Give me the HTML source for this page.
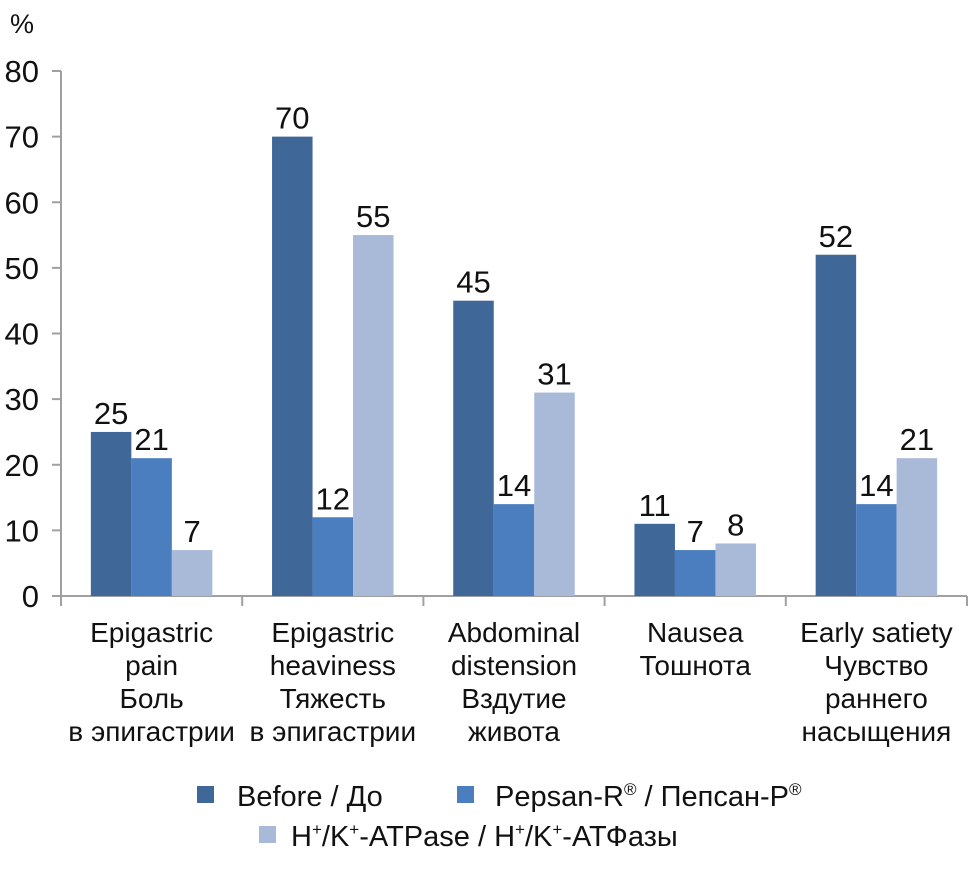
<!DOCTYPE html>
<html><head><meta charset="utf-8"><style>
body{margin:0;background:#fff;}
svg text{font-family:"Liberation Sans Narrow","Liberation Sans","DejaVu Sans",sans-serif;fill:#111;}
</style></head><body>
<svg id="chart" width="970" height="864" viewBox="0 0 970 864">
<g id="grid"></g><g id="bars"></g><g id="labels"></g>
<g>
 <rect x="197" y="786" width="17" height="17" fill="#3f6797"/>
 <text x="237" y="806" font-size="29">Before / До</text>
 <rect x="457" y="786" width="17" height="17" fill="#4a7ebf"/>
 <text x="495" y="806" font-size="29">Pepsan-R<tspan font-size="17" dy="-11">®</tspan><tspan dy="11"> / Пепсан-Р</tspan><tspan font-size="17" dy="-11">®</tspan></text>
 <rect x="259" y="826" width="17" height="17" fill="#a9bad8"/>
 <text x="291" y="846" font-size="29">H<tspan font-size="17" dy="-11">+</tspan><tspan dy="11">/K</tspan><tspan font-size="17" dy="-11">+</tspan><tspan dy="11">-ATPase / H</tspan><tspan font-size="17" dy="-11">+</tspan><tspan dy="11">/K</tspan><tspan font-size="17" dy="-11">+</tspan><tspan dy="11">-АТФазы</tspan></text>
</g>
</svg>
<script>
const categories=[["Epigastric","pain","Боль","в эпигастрии"],["Epigastric","heaviness","Тяжесть","в эпигастрии"],["Abdominal","distension","Вздутие","живота"],["Nausea","Тошнота"],["Early satiety","Чувство","раннего","насыщения"]];
const before=[25,70,45,11,52];
const pepsan=[21,12,14,7,14];
const atpase=[7,55,31,8,21];
const yTicks=[0,10,20,30,40,50,60,70,80];
const NS="http://www.w3.org/2000/svg";
const x0=61,y0=596,yTop=71,catW=181.2,barW=40.5;
const y=v=>y0-(v/80)*(y0-yTop);
function mk(tag,attrs,parent){const e=document.createElementNS(NS,tag);for(const k in attrs)e.setAttribute(k,attrs[k]);parent.appendChild(e);return e;}
const grid=document.getElementById('grid'),bars=document.getElementById('bars'),labels=document.getElementById('labels');
let ax=mk('line',{x1:x0,y1:yTop,x2:x0,y2:y0,stroke:'#a0a0a0','stroke-width':2},grid);


let bx=mk('line',{x1:x0-9,y1:y0,x2:x0+5*catW,y2:y0,stroke:'#a0a0a0','stroke-width':2},grid);


yTicks.forEach(t=>{
 const l=mk('line',{x1:x0-9,y1:y(t),x2:x0,y2:y(t),stroke:'#a0a0a0','stroke-width':2},grid);
 
 
 const tx=mk('text',{x:x0-22,y:y(t)+11,'font-size':31,'text-anchor':'end'},labels);
 tx.textContent=t;
 
 
});
const yt=mk('text',{x:10,y:33,'font-size':27},labels);
yt.textContent='%';


for(let i=0;i<=5;i++){
 const l=mk('line',{x1:x0+i*catW,y1:y0,x2:x0+i*catW,y2:y0+10,stroke:'#a0a0a0','stroke-width':2},grid);
 
 
}
const series=[[before,'#3f6797','before'],[pepsan,'#4a7ebf','pepsan'],[atpase,'#a9bad8','atpase']];
categories.forEach((c,i)=>{
 const cx=x0+i*catW+catW/2;
 series.forEach((s,j)=>{
  const v=s[0][i];const bx0=cx-1.5*barW+j*barW;
  const r=mk('rect',{x:bx0,y:y(v),width:barW,height:y0-y(v),fill:s[1]},bars);
  
  
  const t=mk('text',{x:bx0+barW/2,y:y(v)-8,'font-size':31,'text-anchor':'middle'},labels);
  t.textContent=v;
  
  
 });
 c.forEach((line,k)=>{
  const t=mk('text',{x:cx,y:642+k*33,'font-size':28,'text-anchor':'middle'},labels);
  t.textContent=line;
  
  
 });
});
</script>
</body></html>
